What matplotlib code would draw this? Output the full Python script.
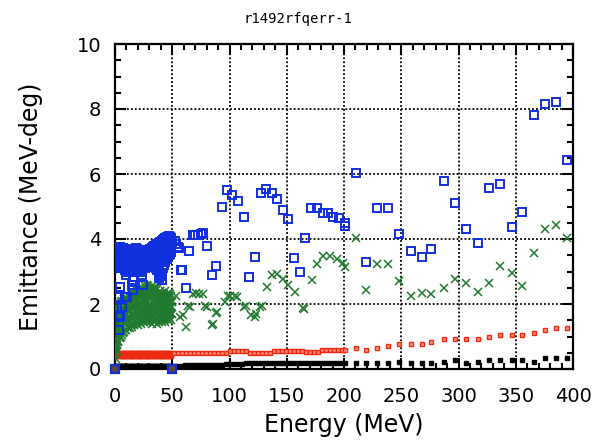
import matplotlib
matplotlib.use("Agg")
import matplotlib.pyplot as plt
from matplotlib.ticker import MultipleLocator

# --- dense low-energy section, one column every 1 MeV (0..49 MeV) ---
e_dense = list(range(50))
e_dense_half = [e + 0.5 for e in e_dense]

blue_hi = [3.70, 3.75, 3.72, 3.70, 3.75, 3.70, 3.68, 3.72, 3.70, 3.60,
           3.62, 3.58, 3.60, 3.62, 3.55, 3.60, 3.65, 3.70, 3.72, 3.68,
           3.60, 3.55, 3.50, 3.45, 3.45, 3.50, 3.55, 3.60, 3.65, 3.65,
           3.65, 3.70, 3.72, 3.75, 3.78, 3.80, 3.82, 3.85, 3.88, 3.90,
           3.92, 3.95, 3.97, 4.00, 4.02, 4.05, 4.05, 4.08, 4.05, 4.02]
blue_mid = [3.45, 3.40, 3.50, 3.35, 3.45, 3.40, 3.50, 3.38, 3.42, 3.35,
            3.30, 3.40, 3.32, 3.38, 3.30, 3.35, 3.42, 3.40, 3.45, 3.38,
            3.30, 3.28, 3.25, 3.20, 3.25, 3.30, 3.35, 3.38, 3.40, 3.42,
            3.45, 3.50, 3.48, 3.52, 3.55, 3.50, 3.58, 3.60, 3.55, 3.62,
            3.65, 3.60, 3.68, 3.70, 3.72, 3.75, 3.78, 3.80, 3.82, 3.85]
blue_lo = [3.20, 3.10, 3.25, 3.15, 3.30, 3.20, 3.25, 3.10, 3.20, 3.05,
           3.10, 3.00, 3.12, 3.05, 3.08, 3.10, 3.15, 3.10, 3.20, 3.12,
           3.10, 3.05, 3.00, 3.05, 3.10, 3.15, 3.10, 3.20, 3.15, 3.20,
           3.25, 3.20, 3.30, 3.25, 3.30, 3.20, 3.10, 3.05, 3.00, 2.90,
           2.85, 2.95, 3.10, 3.20, 3.30, 3.40, 3.45, 3.50, 3.55, 3.60]
blue_half = [3.55, 3.30, 3.60, 3.25, 3.55, 3.30, 3.40, 3.55, 3.28, 3.48,
             3.45, 3.20, 3.50, 3.22, 3.45, 3.25, 3.55, 3.28, 3.58, 3.25,
             3.45, 3.18, 3.38, 3.12, 3.35, 3.20, 3.45, 3.28, 3.52, 3.30,
             3.55, 3.35, 3.60, 3.40, 3.65, 3.35, 3.45, 3.70, 3.30, 3.75,
             3.50, 3.80, 3.40, 3.85, 3.55, 3.90, 3.65, 3.95, 3.70, 3.90]

green_hi = [1.60, 1.80, 1.90, 2.00, 1.95, 2.05, 2.10, 2.00, 2.15, 2.10,
            2.20, 2.15, 2.25, 2.20, 2.30, 2.25, 2.30, 2.35, 2.30, 2.40,
            2.35, 2.40, 2.45, 2.40, 2.50, 2.45, 2.55, 2.50, 2.60, 2.55,
            2.50, 2.45, 2.55, 2.50, 2.45, 2.40, 2.50, 2.45, 2.35, 2.40,
            2.30, 2.35, 2.25, 2.30, 2.40, 2.30, 2.25, 2.35, 2.30, 2.25]
green_mid = [0.90, 1.10, 1.30, 1.40, 1.50, 1.55, 1.60, 1.65, 1.70, 1.75,
             1.70, 1.80, 1.85, 1.80, 1.90, 1.85, 1.95, 1.90, 2.00, 1.95,
             1.90, 2.00, 1.95, 2.05, 2.00, 1.95, 2.05, 2.00, 1.90, 1.95,
             2.00, 1.90, 1.95, 1.85, 1.90, 2.00, 1.95, 1.90, 2.00, 1.85,
             1.90, 1.95, 1.85, 1.90, 1.95, 1.85, 1.90, 1.95, 1.85, 1.90]
green_lo = [0.45, 0.60, 0.75, 0.85, 0.95, 1.00, 1.05, 1.10, 1.15, 1.20,
            1.20, 1.25, 1.30, 1.25, 1.35, 1.30, 1.40, 1.35, 1.45, 1.40,
            1.35, 1.45, 1.50, 1.40, 1.50, 1.45, 1.55, 1.50, 1.45, 1.55,
            1.50, 1.45, 1.40, 1.50, 1.45, 1.55, 1.50, 1.40, 1.45, 1.55,
            1.50, 1.45, 1.55, 1.50, 1.45, 1.55, 1.50, 1.60, 1.55, 1.50]
green_half_lo = [0.65, 0.85, 1.05, 1.15, 1.25, 1.30, 1.35, 1.40, 1.45, 1.50,
                 1.48, 1.55, 1.60, 1.52, 1.65, 1.58, 1.70, 1.62, 1.75, 1.68,
                 1.62, 1.75, 1.72, 1.70, 1.78, 1.68, 1.82, 1.75, 1.65, 1.78,
                 1.72, 1.65, 1.70, 1.62, 1.68, 1.78, 1.72, 1.62, 1.70, 1.75,
                 1.68, 1.72, 1.65, 1.72, 1.70, 1.75, 1.68, 1.80, 1.72, 1.70]
green_half_hi = [1.30, 1.50, 1.62, 1.72, 1.75, 1.82, 1.88, 1.85, 1.95, 1.95,
                 1.98, 2.00, 2.08, 2.02, 2.12, 2.08, 2.15, 2.15, 2.18, 2.20,
                 2.15, 2.22, 2.22, 2.25, 2.28, 2.22, 2.32, 2.28, 2.30, 2.28,
                 2.25, 2.20, 2.28, 2.22, 2.20, 2.25, 2.28, 2.20, 2.22, 2.18,
                 2.12, 2.18, 2.08, 2.12, 2.20, 2.10, 2.08, 2.15, 2.10, 2.05]

red_dense_a = [0.58] + [0.48] * 49
red_dense_b = [0.50] + [0.39] * 49
black_dense = [0.08] * 50

# scattered low blue points near the start
blue_sc_e = [1.5, 2.9, 3.5, 3.8, 4.4, 4.4, 5.8, 8.7, 10.0, 10.2, 14.5, 16.0, 16.0, 23.3, 24.7, 38.0, 41.0]
blue_sc_y = [1.92, 2.22, 1.20, 1.66, 2.53, 1.60, 1.92, 2.22, 2.90, 2.22, 2.58, 2.74, 2.43, 2.90, 2.58, 2.80, 2.75]
green_sc_e = [0.5, 1.0, 2.0, 2.9, 1.5, 49.0]
green_sc_y = [0.30, 0.70, 0.55, 0.84, 1.20, 1.94]

# --- 50..200 MeV ---
blue_mid_e = [52, 53.5, 55.3, 56.2, 57.6, 58.8, 62, 65, 67.8, 70, 72.8, 75, 77.1, 80,
              84.7, 88.2, 93.2, 97.5, 102.5, 107.7, 112.7, 117.3, 122.3, 127.2,
              131.9, 137.1, 141.8, 147, 151, 156.3, 161.6, 166, 171, 176.7, 181.4,
              186.3, 190.7, 195.9, 200.5, 200.9]
blue_mid_y = [3.95, 3.85, 3.74, 3.73, 3.04, 3.06, 2.50, 3.62, 4.11, 4.12, 4.11, 4.15,
              4.18, 3.80, 2.88, 3.17, 5.00, 5.50, 5.36, 5.18, 4.67, 2.83, 3.45, 5.42,
              5.54, 5.42, 5.23, 4.90, 4.62, 3.42, 3.00, 4.03, 4.95, 4.95, 4.80,
              4.80, 4.67, 4.65, 4.50, 4.40]
green_mid_e = [53.3, 56.8, 59.1, 62, 64, 65.5, 68.4, 71, 73.7, 76.5, 78.6, 80.6, 84.5,
               85.3, 88.2, 88.8, 96, 99, 100.4, 104.8, 106.3, 112.7, 114.4, 118.8,
               122, 123.1, 126.6, 128.1, 132.5, 136.8, 141.2, 146.4, 151.4, 157.2,
               163.9, 165, 171.7, 176.7, 182, 187.8, 193.6, 199.5, 200.9]
green_mid_y = [2.26, 1.60, 1.65, 1.28, 1.94, 1.90, 2.32, 2.35, 2.32, 2.32, 1.94, 1.90,
               1.34, 1.37, 1.72, 1.75, 2.06, 2.25, 2.26, 2.25, 2.22, 1.90, 1.94, 1.65,
               1.60, 1.68, 1.90, 1.94, 2.52, 2.90, 2.93, 2.78, 2.60, 2.38,
               1.87, 1.85, 2.73, 3.22, 3.48, 3.47, 3.40, 3.25, 3.15]
red_mid_e = [51.5, 55, 58.5, 62, 65.5, 69, 72.5, 76, 79.5, 83, 86.5, 90, 93.5, 97,
             100.5, 104, 107.5, 111, 114.5, 118, 121.5, 125, 128.5, 132, 135.5,
             139, 142.5, 146, 149.5, 153, 156.5, 160, 163.5, 167, 170.5, 174,
             177.5, 181, 184.5, 188, 191.5, 195, 198.5, 200.5]
red_mid_y = [0.49, 0.49, 0.49, 0.49, 0.49, 0.49, 0.49, 0.49, 0.49, 0.49, 0.49, 0.49,
             0.49, 0.49, 0.54, 0.54, 0.54, 0.54, 0.54, 0.49, 0.49, 0.49, 0.49, 0.49,
             0.49, 0.56, 0.56, 0.56, 0.56, 0.56, 0.56, 0.56, 0.56, 0.52, 0.52, 0.52,
             0.52, 0.59, 0.59, 0.59, 0.59, 0.59, 0.59, 0.60]
black_mid_e = red_mid_e
black_mid_y = [0.10, 0.10, 0.10, 0.11, 0.11, 0.11, 0.12, 0.12, 0.12, 0.12, 0.13, 0.13,
               0.13, 0.14, 0.15, 0.15, 0.16, 0.16, 0.17, 0.17, 0.17, 0.18, 0.18, 0.18,
               0.18, 0.19, 0.19, 0.19, 0.19, 0.20, 0.20, 0.20, 0.20, 0.20, 0.20, 0.20,
               0.20, 0.20, 0.20, 0.20, 0.20, 0.20, 0.20, 0.20]

# --- 200..400 MeV, one point every ~10 MeV ---
e_high = [210.5, 219.2, 228.5, 238.2, 248, 258.2, 267.8, 276.3, 287.3, 297,
          306.8, 316.8, 326.6, 336.2, 346.4, 355.7, 366, 375.5, 385.2, 395]
blue_high = [6.03, 3.30, 4.96, 4.96, 4.14, 3.63, 3.46, 3.70, 5.80, 5.10,
             4.32, 3.87, 5.58, 5.68, 4.38, 4.84, 7.81, 8.16, 8.21, 6.44]
green_high = [4.03, 2.43, 3.22, 3.22, 2.71, 2.24, 2.35, 2.32, 2.50, 2.78,
              2.65, 2.38, 2.65, 3.17, 2.94, 2.55, 3.57, 4.32, 4.44, 4.03]
red_high = [0.64, 0.57, 0.64, 0.71, 0.77, 0.77, 0.77, 0.83, 0.93, 0.93,
            0.93, 0.93, 1.00, 1.05, 1.05, 1.05, 1.10, 1.20, 1.27, 1.27]
black_high = [0.20, 0.17, 0.19, 0.19, 0.23, 0.17, 0.17, 0.19, 0.23, 0.28,
              0.19, 0.23, 0.28, 0.28, 0.28, 0.28, 0.23, 0.33, 0.35, 0.33]

# reference points sitting on the axis
zero_e = [0, 50]
zero_y = [0, 0]

BLUE = "#1030e0"
GREEN = "#1f7a2e"
RED = "#ee2a10"

blue_e = e_dense * 3 + e_dense_half + blue_sc_e + blue_mid_e + e_high
blue_y = blue_hi + blue_mid + blue_lo + blue_half + blue_sc_y + blue_mid_y + blue_high
green_e = e_dense * 3 + e_dense_half * 2 + green_sc_e + green_mid_e + e_high
green_y = (green_hi + green_mid + green_lo + green_half_lo + green_half_hi
           + green_sc_y + green_mid_y + green_high)
red_e = red_mid_e + e_high
red_y = red_mid_y + red_high
black_e = e_dense + black_mid_e + e_high
black_y = black_dense + black_mid_y + black_high

fig, ax = plt.subplots(figsize=(5.96, 4.42), dpi=100)
fig.subplots_adjust(left=115 / 596, right=573 / 596, bottom=1 - 369 / 442, top=1 - 44 / 442)

ax.plot(black_e, black_y, linestyle="none", marker="s", markersize=2.2,
        color="black", zorder=3)
# solid red band at low energy, open-centred squares further up
ax.plot(e_dense * 2, red_dense_a + red_dense_b, linestyle="none", marker="s",
        markersize=3.2, color=RED, markeredgewidth=1.0, zorder=4)
ax.plot(red_e, red_y, linestyle="none", marker="s", markersize=3.0,
        markerfacecolor="#ff9080", markeredgecolor=RED, markeredgewidth=1.0, zorder=4)
ax.plot(green_e, green_y, linestyle="none", marker="x", markersize=5.5,
        color=GREEN, markeredgewidth=1.1, zorder=5)
ax.plot(blue_e, blue_y, linestyle="none", marker="s", markersize=5.6,
        markerfacecolor="none", markeredgecolor=BLUE, markeredgewidth=1.4, zorder=6)

ax.plot(zero_e, zero_y, linestyle="none", marker="s", markersize=6,
        markerfacecolor="#5a4a30", markeredgecolor=BLUE, markeredgewidth=1.6,
        clip_on=False, zorder=7)

ax.set_xlim(0, 400)
ax.set_ylim(0, 10)
ax.xaxis.set_major_locator(MultipleLocator(50))
ax.xaxis.set_minor_locator(MultipleLocator(10))
ax.yaxis.set_major_locator(MultipleLocator(2))
ax.yaxis.set_minor_locator(MultipleLocator(0.5))

ax.grid(which="major", color="black", linestyle=(0, (1, 1.2)), linewidth=1.3)
ax.tick_params(which="both", direction="in", top=True, right=True, width=1.5, color="black")
ax.tick_params(which="major", length=8, labelsize=14, pad=10)
ax.tick_params(which="minor", length=4.5)
ax.tick_params(axis="x", which="major", pad=13)
for s in ax.spines.values():
    s.set_linewidth(1.6)

ax.set_xlabel("Energy (MeV)", fontsize=17, labelpad=5)
ax.set_ylabel("Emittance (MeV-deg)", fontsize=17, labelpad=24)
fig.text(0.5, 1 - 19 / 442, "r1492rfqerr-1", ha="center", va="center",
         fontsize=10, family="DejaVu Sans Mono")

fig.savefig("out.png", dpi=100, facecolor="white")
